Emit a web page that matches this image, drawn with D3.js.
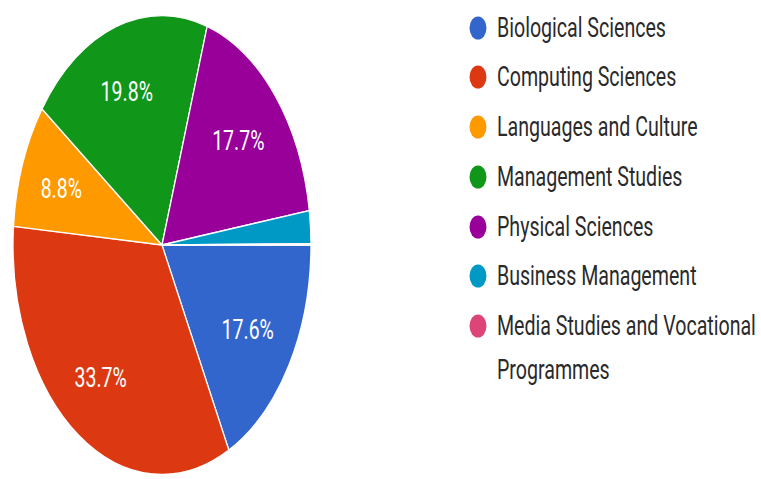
<!DOCTYPE html>
<html>
<head>
<meta charset="utf-8">
<script src="https://cdn.jsdelivr.net/npm/d3@7"></script>
<style>
  html, body { margin: 0; padding: 0; background: #fff; }
  svg { display: block; }
</style>
</head>
<body>
<svg id="chart" width="761" height="479"></svg>
<script>
const categories = [
  "Biological Sciences",
  "Computing Sciences",
  "Languages and Culture",
  "Management Studies",
  "Physical Sciences",
  "Business Management",
  "Media Studies and Vocational Programmes"
];
const values = [17.6, 33.7, 8.8, 19.8, 17.7, 2.3, 0.1];
const colors = ["#3366cc", "#dc3912", "#ff9900", "#109618", "#990099", "#0099c6", "#dd4477"];

const W = 761, H = 479;
const cx = 162, cy = 245, R = 149, SY = 1.54, TSY = 1.4;
const svg = d3.select("#chart");
const total = d3.sum(values);

const pie = d3.pie().sort(null).value(d => d)
  .startAngle(Math.PI / 2).endAngle(Math.PI / 2 + 2 * Math.PI);
const arcs = pie(values);
const arc = d3.arc().innerRadius(0).outerRadius(R);
const labelArc = d3.arc().innerRadius(R * 0.70).outerRadius(R * 0.70);

const g = svg.append("g").attr("transform", `translate(${cx},${cy}) scale(1,${SY})`);
g.selectAll("path").data(arcs).enter().append("path")
  .attr("d", arc)
  .attr("fill", (d, i) => colors[i])
  .attr("stroke", "#ffffff")
  .attr("stroke-width", 1.3)
  .attr("vector-effect", "non-scaling-stroke");

const fmt = d3.format(".1f");
const lg = svg.append("g").attr("transform", `translate(${cx},${cy})`);
arcs.forEach((d, i) => {
  if (d.value / total < 0.05) return;
  const [x, y] = labelArc.centroid(d);
  lg.append("text")
    .attr("transform", `translate(${x - 3},${y * SY}) scale(1,${TSY})`)
    .attr("text-anchor", "middle")
    .attr("dominant-baseline", "central")
    .attr("font-family", "Roboto, 'Liberation Sans', Arial, sans-serif")
    .attr("font-size", 19.5)
    .attr("fill", "#ffffff")
    .text(fmt(d.value / total * 100) + "%");
});

// Legend
const legX = 478, textX = 497, maxW = 268;
const rowYs = [28, 77, 127, 177, 227, 276, 326];
const lineGap = 44;
const legend = svg.append("g");
categories.forEach((c, i) => {
  const y = rowYs[i];
  legend.append("ellipse")
    .attr("cx", legX).attr("cy", y)
    .attr("rx", 8.5).attr("ry", 11.5)
    .attr("fill", colors[i]);
  const t = legend.append("text")
    .attr("transform", `translate(${textX},${y}) scale(1,${TSY})`)
    .attr("dominant-baseline", "central")
    .attr("font-family", "Roboto, 'Liberation Sans', Arial, sans-serif")
    .attr("font-size", 19.6)
    .attr("fill", "#2a2a2a");
  const words = c.split(" ");
  let line = [], lineNo = 0;
  let tspan = t.append("tspan").attr("x", 0).attr("y", 0);
  words.forEach(w => {
    line.push(w);
    tspan.text(line.join(" "));
    if (tspan.node().getComputedTextLength() > maxW && line.length > 1) {
      line.pop();
      tspan.text(line.join(" "));
      line = [w];
      lineNo++;
      tspan = t.append("tspan").attr("x", 0).attr("y", lineNo * lineGap / TSY).text(w);
    }
  });
});
</script>
</body>
</html>
